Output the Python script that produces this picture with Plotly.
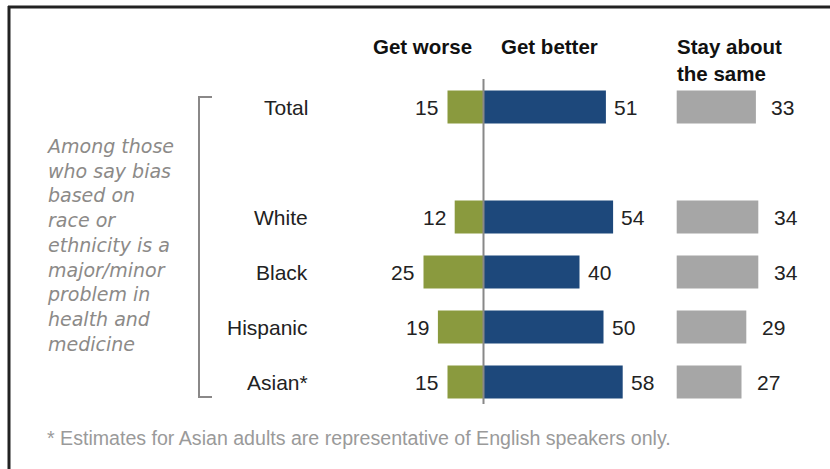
import plotly.graph_objects as go

# ---------------- data ----------------
categories = ["Total", "White", "Black", "Hispanic", "Asian*"]
row_pos = [0, 2, 3, 4, 5]
get_worse = [15, 12, 25, 19, 15]
get_better = [51, 54, 40, 50, 58]
stay_same = [33, 34, 34, 29, 27]
headers = ["Get worse", "Get better", "Stay about<br>the same"]
side_note = ("Among those<br>who say bias<br>based on<br>race or<br>ethnicity is a<br>"
             "major/minor<br>problem in<br>health and<br>medicine")
footnote = "* Estimates for Asian adults are representative of English speakers only."

# ---------------- styling / layout ----------------
W, H = 830, 469
PX_PER_UNIT = 2.4
ZERO_PX = 483.5
ROW0_PX = 107
ROW_PX = 55
GRAY_BASE = 80.5          # offset of the "stay the same" column (in value units)

GREEN = "#8a9a3e"
BLUE = "#1d487b"
GRAY = "#a6a6a6"
TEXT = "#222222"
FONT = "Liberation Sans, Arial, sans-serif"

x_range = [-ZERO_PX / PX_PER_UNIT, (W - ZERO_PX) / PX_PER_UNIT]
y_range = [(H - ROW0_PX) / ROW_PX, -ROW0_PX / ROW_PX]


def px_x(px):
    return px / W


def px_y(py):
    return 1 - py / H


fig = go.Figure()
fig.add_trace(go.Bar(y=row_pos, x=[-v for v in get_worse], orientation="h",
                     marker=dict(color=GREEN, line=dict(width=0)), width=0.6,
                     hoverinfo="skip"))
fig.add_trace(go.Bar(y=row_pos, x=get_better, orientation="h",
                     marker=dict(color=BLUE, line=dict(width=0)), width=0.6,
                     hoverinfo="skip"))
fig.add_trace(go.Bar(y=row_pos, x=stay_same, base=[GRAY_BASE] * len(stay_same),
                     orientation="h",
                     marker=dict(color=GRAY, line=dict(width=0)), width=0.6,
                     hoverinfo="skip"))

ann = []
vfont = dict(family=FONT, size=21, color=TEXT)
for r, c, gw, gb, ss in zip(row_pos, categories, get_worse, get_better, stay_same):
    ann.append(dict(x=-72.3, y=r, xref="x", yref="y", text=c, showarrow=False,
                    xanchor="right", yanchor="middle", font=vfont))
    ann.append(dict(x=-gw - 3.0, y=r, xref="x", yref="y", text=str(gw), showarrow=False,
                    xanchor="right", yanchor="middle", font=vfont))
    ann.append(dict(x=gb + 2.6, y=r, xref="x", yref="y", text=str(gb), showarrow=False,
                    xanchor="left", yanchor="middle", font=vfont))
    ann.append(dict(x=GRAY_BASE + ss + 5.6, y=r, xref="x", yref="y", text=str(ss),
                    showarrow=False, xanchor="left", yanchor="middle", font=vfont))

hfont = dict(family=FONT, size=20.5, color="#111111", weight="bold")
for txt, xl in zip(headers, [371, 499, 675]):
    ann.append(dict(x=px_x(xl), y=px_y(33), xref="paper", yref="paper", text=txt,
                    showarrow=False, xanchor="left", yanchor="top", align="left",
                    font=hfont))

ann.append(dict(x=px_x(44), y=px_y(133), xref="paper", yref="paper", text=side_note,
                showarrow=False, xanchor="left", yanchor="top", align="left",
                font=dict(family="DejaVu Sans, sans-serif", size=19, color="#8c8a88",
                          style="italic")))
ann.append(dict(x=px_x(45), y=px_y(438), xref="paper", yref="paper", text=footnote,
                showarrow=False, xanchor="left", yanchor="middle", align="left",
                font=dict(family=FONT, size=19.6, color="#9a9a9a")))

shapes = [
    # zero line
    dict(type="line", xref="x", yref="y", x0=0, x1=0,
         y0=(79 - ROW0_PX) / ROW_PX, y1=(404 - ROW0_PX) / ROW_PX,
         line=dict(color="#888888", width=2)),
    # bracket
    dict(type="path", xref="paper", yref="paper",
         path=(f"M {px_x(212)} {px_y(97)} L {px_x(199)} {px_y(97)} "
               f"L {px_x(199)} {px_y(397)} L {px_x(212)} {px_y(397)}"),
         line=dict(color="#8a8888", width=2)),
    # frame
    dict(type="line", xref="paper", yref="paper", x0=px_x(8), x1=1.0,
         y0=px_y(7), y1=px_y(7), line=dict(color="#222222", width=3)),
    dict(type="line", xref="paper", yref="paper", x0=px_x(9), x1=px_x(9),
         y0=px_y(6), y1=0, line=dict(color="#222222", width=3)),
]

fig.update_layout(
    width=W, height=H, margin=dict(l=0, r=0, t=0, b=0),
    paper_bgcolor="white", plot_bgcolor="white",
    barmode="overlay", showlegend=False,
    xaxis=dict(range=x_range, visible=False, fixedrange=True),
    yaxis=dict(range=y_range, visible=False, fixedrange=True),
    annotations=ann, shapes=shapes,
)

fig.write_html("out.html", config={"displayModeBar": False},
               post_script="document.body.style.margin='0';"
                           "document.body.style.overflow='hidden';")
